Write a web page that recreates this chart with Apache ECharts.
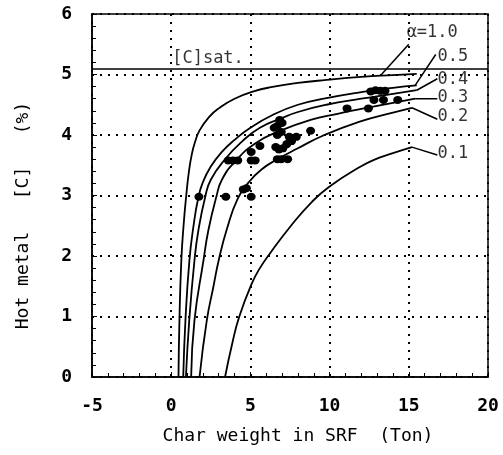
<!DOCTYPE html>
<html>
<head>
<meta charset="utf-8">
<script src="https://cdn.jsdelivr.net/npm/echarts@6/dist/echarts.min.js"></script>
<style>
	html, body { margin: 0; padding: 0; background: #fff; }
	#chart { width: 503px; height: 455px; }
</style>
</head>
<body>
<div id="chart"></div>
<script>
// curves of [C] vs char weight, one per alpha value
var alphaNames = ['1.0', '0.5', '0.4', '0.3', '0.2', '0.1'];
var curve10 = [[0.46, 0], [0.52, 0.94], [0.64, 1.93], [0.78, 2.5], [0.95, 3.0], [1.12, 3.4], [1.3, 3.68], [1.5, 3.88], [1.8, 4.08], [2.4, 4.3], [3.0, 4.44], [4.0, 4.6], [5.2, 4.72], [6.3, 4.79], [8.0, 4.86], [9.8, 4.91], [12.0, 4.96], [14.0, 4.99], [15.5, 5.01]];
var curve05 = [[0.76, 0], [0.9, 0.94], [1.15, 1.93], [1.4, 2.48], [1.7, 2.95], [2.0, 3.22], [2.5, 3.48], [3.2, 3.72], [4.0, 3.92], [5.0, 4.12], [6.4, 4.33], [8.0, 4.5], [9.8, 4.61], [12.0, 4.71], [14.0, 4.78], [15.5, 4.82]];
var curve04 = [[0.93, 0], [1.14, 0.94], [1.47, 1.93], [1.72, 2.43], [2.15, 2.98], [2.5, 3.26], [3.4, 3.6], [4.5, 3.9], [5.6, 4.12], [6.9, 4.27], [8.0, 4.38], [9.8, 4.5], [12.0, 4.6], [14.0, 4.68], [15.5, 4.74]];
var curve03 = [[1.26, 0], [1.47, 0.94], [2.04, 1.93], [2.35, 2.43], [2.85, 2.98], [3.2, 3.26], [4.0, 3.55], [5.3, 3.86], [6.8, 4.06], [8.8, 4.25], [10.5, 4.35], [12.0, 4.43], [14.0, 4.53], [15.4, 4.6]];
var curve02 = [[1.79, 0], [2.25, 0.94], [2.67, 1.5], [3.0, 1.93], [3.52, 2.45], [4.2, 2.95], [4.9, 3.22], [5.7, 3.43], [6.7, 3.6], [8.0, 3.78], [9.5, 3.98], [11.9, 4.22], [14.0, 4.37], [15.2, 4.45]];
var curve01 = [[3.4, 0], [3.85, 0.55], [4.3, 1.0], [5.1, 1.55], [5.6, 1.8], [6.2, 2.03], [7.5, 2.48], [8.9, 2.9], [10.0, 3.15], [11.9, 3.47], [12.8, 3.59], [14.0, 3.7], [15.2, 3.8]];
var curves = [curve10, curve05, curve04, curve03, curve02, curve01];

// measured points
var obsX = [1.75, 3.45, 4.55, 4.75, 5.05, 3.6, 3.9, 4.2, 5.05, 5.3, 5.05, 5.6, 6.7, 6.95, 7.35, 6.6, 6.8, 7.05, 7.3, 7.6, 7.9, 7.45, 6.5, 6.7, 6.85, 6.95, 7.0, 6.7, 8.8, 11.1, 12.45, 12.8, 13.4, 14.3, 12.6, 12.9, 13.2, 13.5];
var obsY = [2.98, 2.98, 3.1, 3.12, 2.98, 3.58, 3.58, 3.58, 3.58, 3.58, 3.72, 3.82, 3.6, 3.6, 3.6, 3.8, 3.76, 3.78, 3.85, 3.9, 3.97, 3.97, 4.12, 4.15, 4.25, 4.05, 4.2, 4.0, 4.07, 4.44, 4.44, 4.58, 4.58, 4.58, 4.72, 4.74, 4.73, 4.73];

// saturation line
var cSat = 5.1;
var cSatLabel = '[C]sat.';
var cSatLabelPos = [0.0, 5.26];

// curve labels and leader lines
var labelTexts = ['α=1.0', '0.5', '0.4', '0.3', '0.2', '0.1'];
var labelX = [14.8, 16.75, 16.75, 16.75, 16.75, 16.75];
var labelY = [5.69, 5.29, 4.91, 4.62, 4.3, 3.7];
var leaderFrom = [[13.2, 4.98], [15.4, 4.82], [15.5, 4.74], [15.4, 4.6], [15.2, 4.45], [15.2, 3.8]];
var leaderTo = [[15.0, 5.5], [16.7, 5.33], [16.8, 4.93], [16.8, 4.6], [16.8, 4.26], [16.8, 3.67]];

var xTicks = { min: -5, max: 20, step: 5 };
var yTicks = { min: 0, max: 6, step: 1 };

var FONT = 'DejaVu Sans Mono';

var chart = echarts.init(document.getElementById('chart'), null, { renderer: 'canvas' });

var series = [];

curves.forEach(function(pts, i) {
	series.push({
		name: 'alpha ' + alphaNames[i],
		type: 'line',
		data: pts,
		smooth: 0.5,
		showSymbol: false,
		symbol: 'none',
		lineStyle: { color: '#000', width: 1.8 },
		silent: true,
		z: 3
	});
});

leaderFrom.forEach(function(p, i) {
	series.push({
		type: 'line',
		data: [p, leaderTo[i]],
		symbol: 'none',
		lineStyle: { color: '#000', width: 1.5 },
		silent: true,
		z: 3
	});
});

series.push({
	name: 'observed',
	type: 'scatter',
	data: obsX.map(function(x, i) { return [x, obsY[i]]; }),
	symbol: 'circle',
	symbolSize: [9, 8],
	itemStyle: { color: '#000', opacity: 1 },
	z: 4,
	markLine: {
		silent: true,
		symbol: 'none',
		label: { show: false },
		lineStyle: { color: '#000', width: 1.6, type: 'solid' },
		data: [{ yAxis: cSat }]
	}
});

series.push({
	type: 'scatter',
	data: labelTexts.map(function(t, i) { return { value: [labelX[i], labelY[i]], name: t }; })
		.concat([{ value: cSatLabelPos, name: cSatLabel }]),
	symbolSize: 0,
	silent: true,
	label: {
		show: true,
		position: 'right',
		distance: 1,
		formatter: function(p) { return p.name; },
		color: '#000',
		fontFamily: FONT,
		fontSize: 17
	},
	z: 5
});

var option = {
	animation: false,
	backgroundColor: '#fff',
	grid: {
		left: 92,
		right: 15,
		top: 14,
		bottom: 78,
		show: true,
		borderColor: '#000',
		borderWidth: 1.5
	},
	xAxis: {
		type: 'value',
		min: xTicks.min,
		max: xTicks.max,
		interval: xTicks.step,
		name: 'Char weight in SRF  (Ton)',
		nameLocation: 'middle',
		nameGap: 50,
		nameTextStyle: { color: '#000', fontFamily: FONT, fontSize: 18, padding: [0, 0, 0, 16] },
		axisLine: { show: true, onZero: false, lineStyle: { color: '#000', width: 1.5 } },
		axisTick: { show: true, inside: true, length: 5, lineStyle: { color: '#000' } },
		minorTick: { show: true, splitNumber: 5, length: 4, lineStyle: { color: '#000' } },
		axisLabel: { color: '#000', fontFamily: FONT, fontSize: 18, fontWeight: 'bold', margin: 20 },
		splitLine: { show: true, lineStyle: { color: '#000', width: 2, type: [2, 6] } }
	},
	yAxis: {
		type: 'value',
		min: yTicks.min,
		max: yTicks.max,
		interval: yTicks.step,
		name: 'Hot metal   [C]   (%)',
		nameLocation: 'middle',
		nameGap: 60,
		nameTextStyle: { color: '#000', fontFamily: FONT, fontSize: 18, padding: [0, 40, 0, 0] },
		axisLine: { show: true, onZero: false, lineStyle: { color: '#000', width: 1.5 } },
		axisTick: { show: true, inside: true, length: 5, lineStyle: { color: '#000' } },
		minorTick: { show: true, splitNumber: 5, length: 4, lineStyle: { color: '#000' } },
		axisLabel: { color: '#000', fontFamily: FONT, fontSize: 18, fontWeight: 'bold', margin: 20 },
		splitLine: { show: true, lineStyle: { color: '#000', width: 2, type: [2, 6] } }
	},
	series: series
};

chart.setOption(option);
</script>
</body>
</html>
